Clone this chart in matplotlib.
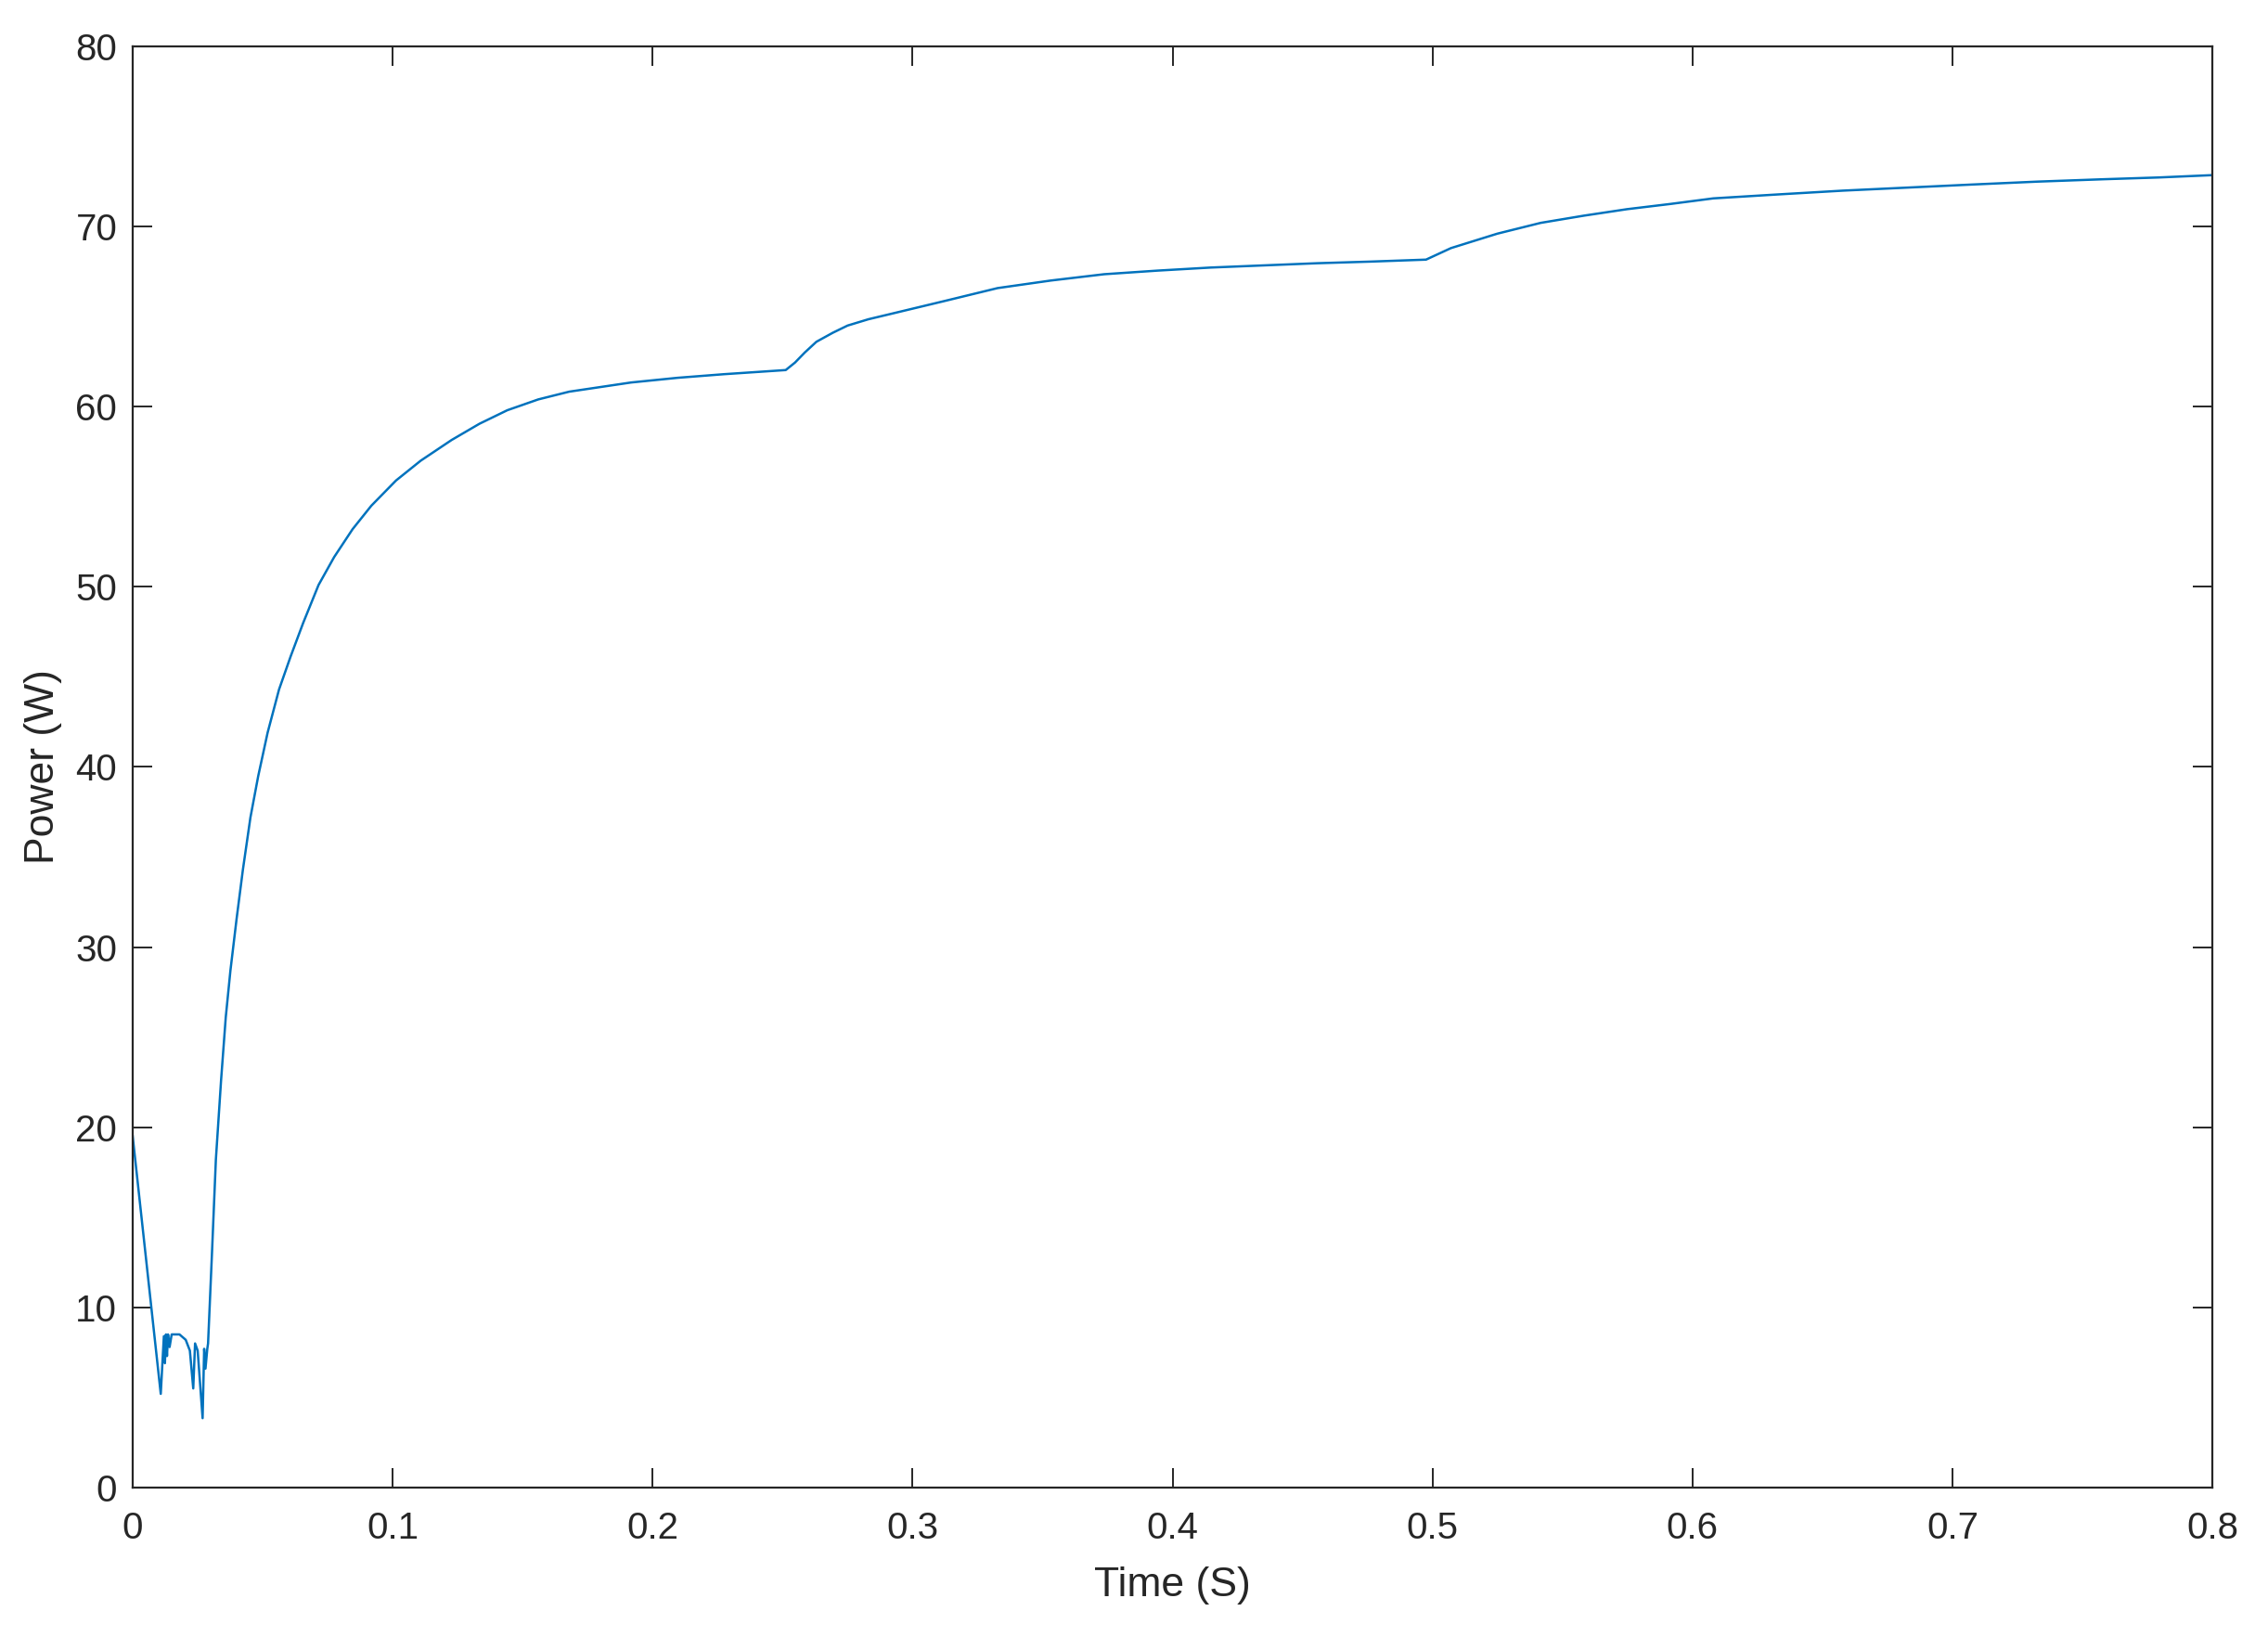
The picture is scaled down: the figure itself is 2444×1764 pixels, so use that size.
import matplotlib
matplotlib.use("Agg")
import matplotlib.pyplot as plt

# Data
time_s = [0.0, 0.0108, 0.0120, 0.0124, 0.0128, 0.0132, 0.0136, 0.0142, 0.0150,
          0.0180, 0.0204, 0.0220, 0.0233, 0.0240, 0.0250, 0.0269, 0.0275,
          0.0280, 0.0287, 0.0290, 0.0305, 0.0320, 0.0340, 0.0358, 0.0376,
          0.0400, 0.0424, 0.0453, 0.0483, 0.0519, 0.0563, 0.0608, 0.0656,
          0.0715, 0.0775, 0.0846, 0.0918, 0.1013, 0.1108, 0.1227, 0.1334,
          0.1441, 0.1560, 0.1679, 0.1917, 0.2096, 0.2274, 0.2512, 0.2548,
          0.2585, 0.2630, 0.2693, 0.2750, 0.2830, 0.2917, 0.3122, 0.3327,
          0.3532, 0.3737, 0.3942, 0.4146, 0.4351, 0.4556, 0.4761, 0.4975,
          0.5071, 0.5160, 0.5249, 0.5416, 0.5582, 0.5748, 0.5915, 0.6080,
          0.6330, 0.6579, 0.6829, 0.7078, 0.7327, 0.7577, 0.7792, 0.8000]
power_w = [19.5, 5.2, 8.4, 6.9, 8.5, 7.3, 8.5, 7.8, 8.5,
           8.5, 8.2, 7.6, 5.5, 8.0, 7.6, 3.85, 7.7,
           6.6, 7.7, 8.0, 13.0, 18.2, 22.6, 26.1, 28.7,
           31.6, 34.3, 37.2, 39.5, 41.9, 44.3, 46.15, 48.0,
           50.1, 51.65, 53.2, 54.5, 55.9, 57.0, 58.15, 59.05,
           59.8, 60.4, 60.83, 61.34, 61.6, 61.8, 62.03, 62.45,
           63.0, 63.6, 64.1, 64.5, 64.85, 65.15, 65.86, 66.58,
           67.0, 67.35, 67.55, 67.72, 67.84, 67.96, 68.05, 68.16,
           68.8, 69.2, 69.6, 70.2, 70.6, 70.96, 71.25, 71.56,
           71.78, 71.99, 72.16, 72.33, 72.49, 72.62, 72.72, 72.85]

x_ticks = [0, 0.1, 0.2, 0.3, 0.4, 0.5, 0.6, 0.7, 0.8]
x_tick_labels = ["0", "0.1", "0.2", "0.3", "0.4", "0.5", "0.6", "0.7", "0.8"]
y_ticks = [0, 10, 20, 30, 40, 50, 60, 70, 80]
y_tick_labels = ["0", "10", "20", "30", "40", "50", "60", "70", "80"]

plt.rcParams['font.family'] = ['Liberation Sans', 'DejaVu Sans']
txt = '#262626'

fig = plt.figure(figsize=(12.22, 8.82), dpi=200)
ax = fig.add_axes([0.0585, 0.0913, 0.9170, 0.8804])
ax.plot(time_s, power_w, color='#0072BD', lw=0.9)

ax.set_xlim(0, 0.8)
ax.set_ylim(0, 80)
ax.set_xticks(x_ticks)
ax.set_xticklabels(x_tick_labels)
ax.set_yticks(y_ticks)
ax.set_yticklabels(y_tick_labels)
ax.tick_params(direction='in', length=7.5, width=0.7, colors=txt,
               labelsize=14.5, top=True, right=True)
ax.tick_params(axis='x', pad=9)
ax.tick_params(axis='y', pad=6)
for sp in ax.spines.values():
    sp.set_color(txt)
    sp.set_linewidth(0.8)

ax.set_xlabel('Time (S)', fontsize=16, color=txt, labelpad=8)
ax.set_ylabel('Power (W)', fontsize=16, color=txt, labelpad=5)

fig.savefig('out.png', dpi=200, facecolor='white')
